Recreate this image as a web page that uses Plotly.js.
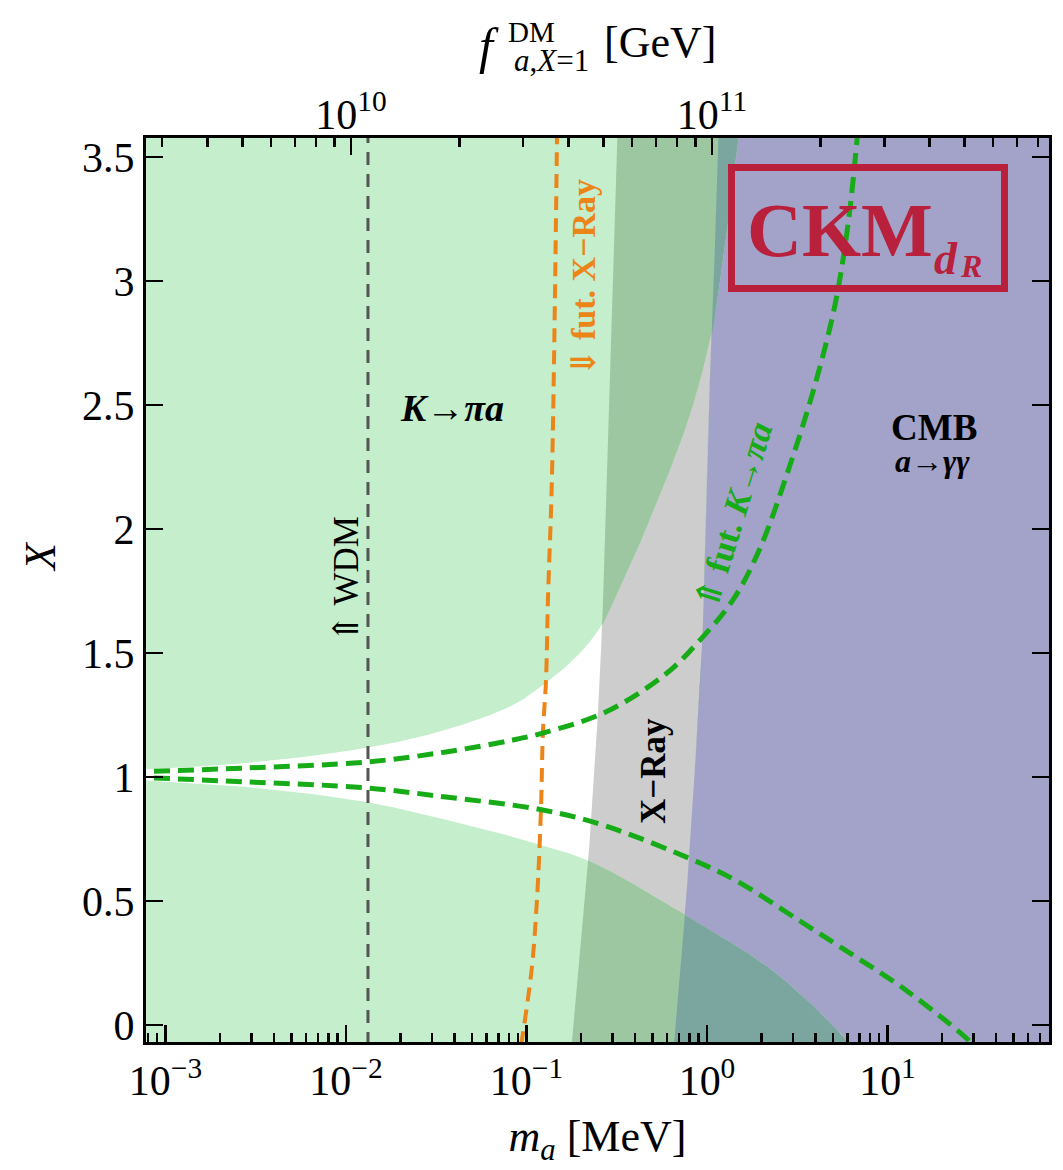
<!DOCTYPE html>
<html><head><meta charset="utf-8">
<script src="https://cdn.plot.ly/plotly-3.0.1.min.js"></script>
<style>html,body{margin:0;padding:0;background:#fff;}</style>
</head><body>
<div id="chart" style="width:1063px;height:1170px;"></div>
<script>
// ================= DATA =================
const massRangeMeV = [7.8e-4, 78.5];     // bottom axis m_a [MeV]
const xRangeVals   = [-0.069, 3.577];    // X
const faRangeGeV   = [2.705e9, 8.58e11]; // top axis f_a^DM (X=1) [GeV]

const xTickVals = [1e-3, 1e-2, 1e-1, 1e0, 1e1];
const xTickText = ['10<sup>−3</sup>','10<sup>−2</sup>','10<sup>−1</sup>','10<sup>0</sup>','10<sup>1</sup>'];
const yTickVals = [0, 0.5, 1, 1.5, 2, 2.5, 3, 3.5];
const yTickText = ['0','0.5','1','1.5','2','2.5','3','3.5'];
const faTickVals = [1e10, 1e11];
const faTickText = ['10<sup>10</sup>','10<sup>11</sup>'];

// X-ray exclusion boundary (left edge of the grey region)
const xrayBoundX = [-0.081, 0.637, 1.512, 2.52, 3.649];
const xrayBoundM = [0.178, 0.219, 0.259, 0.286, 0.321];
// CMB exclusion boundary (left edge of the blue region)
const cmbBoundX = [-0.081, 0.431, 0.746, 1.512, 2.399, 2.802, 3.649];
const cmbBoundM = [0.656, 0.755, 0.805, 0.938, 1.013, 1.067, 1.165];
// K -> pi a excluded: above the upper curve and below the lower curve
const kpiUpperM = [6.35e-4, 2.79e-3, 0.0129, 0.0358, 0.0841, 0.128, 0.186, 0.255, 0.374, 0.549, 0.805, 1.067, 1.291, 1.486, 1.543];
const kpiUpperX = [1.028, 1.056, 1.117, 1.190, 1.290, 1.379, 1.480, 1.601, 1.851, 2.137, 2.460, 2.802, 3.206, 3.569, 3.649];
const kpiLowerM = [6.35e-4, 2.79e-3, 0.0129, 0.0358, 0.0841, 0.222, 0.755, 2.32, 5.46, 6.19];
const kpiLowerX = [0.990, 0.960, 0.899, 0.827, 0.758, 0.661, 0.444, 0.218, -0.032, -0.081];
// future K -> pi a reach (dashed green)
const futKUpperM = [6.35e-4, 2.79e-3, 0.0129, 0.0358, 0.0841, 0.123, 0.275, 0.600, 0.914, 1.393, 1.968, 2.884, 3.963, 5.117, 6.039, 6.776, 6.87];
const futKUpperX = [1.020, 1.036, 1.060, 1.101, 1.149, 1.177, 1.262, 1.419, 1.552, 1.714, 1.923, 2.258, 2.581, 2.903, 3.226, 3.569, 3.629];
const futKLowerM = [6.35e-4, 2.79e-3, 0.0129, 0.0358, 0.123, 0.275, 0.914, 1.524, 3.273, 5.458, 12.82, 27.93, 29.4];
const futKLowerX = [1.000, 0.980, 0.956, 0.919, 0.867, 0.802, 0.653, 0.573, 0.419, 0.315, 0.137, -0.060, -0.081];
// future X-ray reach (dashed orange)
const futXrayM = [0.0933, 0.0957, 0.1072, 0.1143, 0.1203, 0.1233, 0.1283, 0.1315, 0.1384, 0.1476, 0.148];
const futXrayX = [-0.081, -0.032, 0.234, 0.504, 0.867, 1.177, 1.391, 1.714, 2.210, 3.577, 3.649];
// warm dark matter bound
const wdmM = 0.01324;
const wdmX = [-0.081, 3.649];

// ================= helpers =================
const SERIF = 'Liberation Serif, "Times New Roman", DejaVu Serif, serif';
const L = 146, R = 1049, T = 138, B = 1042;
const px = x => (x - L) / (R - L);
const py = y => (B - y) / (B - T);
const lg = v => Math.log10(v);
const SX = (R - L) / (lg(massRangeMeV[1]) - lg(massRangeMeV[0]));
const SY = (B - T) / (xRangeVals[1] - xRangeVals[0]);

// smooth (centripetal Catmull-Rom) path through the read points, in screen-like units
function smoothPath(ms, Xs, per) {
  const P = ms.map((m, i) => [lg(m) * SX, Xs[i] * SY]);
  const n = P.length;
  const ext = [[2*P[0][0]-P[1][0], 2*P[0][1]-P[1][1]], ...P, [2*P[n-1][0]-P[n-2][0], 2*P[n-1][1]-P[n-2][1]]];
  const d = (a, b) => Math.max(1e-6, Math.pow(Math.hypot(b[0]-a[0], b[1]-a[1]), 0.5));
  const lm = [], X = [];
  for (let i = 1; i < ext.length - 2; i++) {
    const p0 = ext[i-1], p1 = ext[i], p2 = ext[i+1], p3 = ext[i+2];
    const t0 = 0, t1 = t0 + d(p0, p1), t2 = t1 + d(p1, p2), t3 = t2 + d(p2, p3);
    for (let k = 0; k < per; k++) {
      const t = t1 + (t2 - t1) * k / per;
      const mix = (a, b, ta, tb) => [(tb-t)/(tb-ta)*a[0] + (t-ta)/(tb-ta)*b[0], (tb-t)/(tb-ta)*a[1] + (t-ta)/(tb-ta)*b[1]];
      const A1 = mix(p0, p1, t0, t1), A2 = mix(p1, p2, t1, t2), A3 = mix(p2, p3, t2, t3);
      const B1 = mix(A1, A2, t0, t2), B2 = mix(A2, A3, t1, t3);
      const C = mix(B1, B2, t1, t2);
      lm.push(C[0] / SX); X.push(C[1] / SY);
    }
  }
  lm.push(P[n-1][0] / SX); X.push(P[n-1][1] / SY);
  return { lm, X };
}
// boundary as function X -> log10(m)
function invByX(path) {
  const pts = path.X.map((x, i) => [x, path.lm[i]]).sort((a, b) => a[0] - b[0]);
  const n = pts.length;
  return function (X) {
    if (X <= pts[0][0]) return pts[0][1];
    if (X >= pts[n-1][0]) return pts[n-1][1];
    let lo = 0, hi = n - 1;
    while (hi - lo > 1) { const mid = (lo + hi) >> 1; if (pts[mid][0] <= X) lo = mid; else hi = mid; }
    const f = (X - pts[lo][0]) / Math.max(1e-12, pts[hi][0] - pts[lo][0]);
    return pts[lo][1] + f * (pts[hi][1] - pts[lo][1]);
  };
}
const fXray = invByX(smoothPath(xrayBoundM, xrayBoundX, 40));
const fCmb  = invByX(smoothPath(cmbBoundM, cmbBoundX, 40));
const fUp   = invByX(smoothPath(kpiUpperM, kpiUpperX, 40));
const fLow  = invByX(smoothPath(kpiLowerM, kpiLowerX, 40));
const FAR_L = -3.5, FAR_R = 2.3;
const cst = v => () => v;

function grid(a, b, n) { const g = []; for (let i = 0; i <= n; i++) g.push(a + (b - a) * i / n); return g; }
const gFull = grid(-0.081, 3.649, 800);
const gUp   = grid(kpiUpperX[0], 3.649, 700);
const gLow  = grid(-0.081, kpiLowerX[0], 400);

function band(Xs, Lf, Rf) {
  const lo = Xs.map(X => Lf(X));
  const hi = Xs.map((X, i) => Math.max(Rf(X), lo[i]));
  const xs = [], ys = [];
  for (let i = 0; i < Xs.length; i++) { xs.push(Math.pow(10, lo[i])); ys.push(Xs[i]); }
  for (let i = Xs.length - 1; i >= 0; i--) { xs.push(Math.pow(10, hi[i])); ys.push(Xs[i]); }
  return { xs, ys };
}
function fillTrace(b, color) {
  return { x: b.xs, y: b.ys, type: 'scatter', mode: 'lines', fill: 'toself', fillcolor: color,
           line: { width: 0, color: color }, hoverinfo: 'skip', showlegend: false };
}
const C_LG = '#c4eecc', C_DG = '#9cc7a1', C_GR = '#cdcdcd', C_BL = '#a3a3c9', C_TE = '#7ba6a0';
const C_GREEN = '#17ab17', C_ORANGE = '#ec8518';

const traces = [
  fillTrace(band(gFull, fXray, cst(FAR_R)), C_GR),
  fillTrace(band(gFull, fCmb,  cst(FAR_R)), C_BL),
  fillTrace(band(gUp,  cst(FAR_L), fUp),  C_LG),
  fillTrace(band(gLow, cst(FAR_L), fLow), C_LG),
  fillTrace(band(gUp,  fXray, fUp),  C_DG),
  fillTrace(band(gLow, fXray, fLow), C_DG),
  fillTrace(band(gUp,  fCmb, fUp),   C_TE),
  fillTrace(band(gLow, fCmb, fLow),  C_TE),
  { x: [wdmM, wdmM], y: wdmX, type: 'scatter', mode: 'lines',
    line: { color: '#555555', width: 3, dash: '13px,9px' }, hoverinfo: 'skip', showlegend: false },
  { x: futXrayM, y: futXrayX, type: 'scatter', mode: 'lines',
    line: { color: C_ORANGE, width: 4, dash: '14px,8px', shape: 'spline', smoothing: 1 }, hoverinfo: 'skip', showlegend: false },
  { x: futKUpperM, y: futKUpperX, type: 'scatter', mode: 'lines',
    line: { color: C_GREEN, width: 5, dash: '16px,8px', shape: 'spline', smoothing: 1 }, hoverinfo: 'skip', showlegend: false },
  { x: futKLowerM, y: futKLowerX, type: 'scatter', mode: 'lines',
    line: { color: C_GREEN, width: 5, dash: '16px,8px', shape: 'spline', smoothing: 1 }, hoverinfo: 'skip', showlegend: false },
  // carrier for the top f_a axis
  { x: faRangeGeV, y: [-5, -5], xaxis: 'x2', yaxis: 'y', type: 'scatter', mode: 'lines',
    line: { width: 0 }, hoverinfo: 'skip', showlegend: false }
];

function minorTicks(lo, hi) {
  const v = [];
  for (let e = Math.floor(lg(lo)) - 1; e <= Math.ceil(lg(hi)); e++)
    for (let k = 2; k <= 9; k++) { const t = k * Math.pow(10, e); if (t > lo && t < hi) v.push(t); }
  return v;
}
function ann(text, x, y, size, color, angle, extra) {
  return Object.assign({ text, xref: 'paper', yref: 'paper', x: px(x), y: py(y),
    xanchor: 'center', yanchor: 'middle', showarrow: false, textangle: angle || 0,
    font: { family: SERIF, size, color: color || '#000' } }, extra || {});
}
const RED = '#b8203c';

const axisCommon = { showgrid: false, zeroline: false, tickcolor: '#000', tickwidth: 2.5,
  ticks: 'inside', ticklen: 17, tickfont: { family: SERIF, size: 42, color: '#000' } };

const layout = {
  width: 1063, height: 1170,
  margin: { l: L, r: 1063 - R, t: T, b: 1170 - B, pad: 0 },
  paper_bgcolor: '#ffffff', plot_bgcolor: '#ffffff', showlegend: false,
  font: { family: SERIF, size: 42, color: '#000' },
  xaxis: Object.assign({}, axisCommon, {
    type: 'log', range: massRangeMeV.map(lg), tickmode: 'array', tickvals: xTickVals, ticktext: xTickText,
    showline: true, linewidth: 3, linecolor: '#000', mirror: true, automargin: false,
    minor: { tickmode: 'array', tickvals: minorTicks(massRangeMeV[0], massRangeMeV[1]), ticks: 'inside',
             ticklen: 9, tickwidth: 2.5, tickcolor: '#000', showgrid: false },
    title: { text: '<i>m<sub>a</sub></i> [MeV]', font: { family: SERIF, size: 44 }, standoff: 17 }
  }),
  xaxis2: Object.assign({}, axisCommon, {
    type: 'log', overlaying: 'x', side: 'top', anchor: 'y', range: faRangeGeV.map(lg),
    tickmode: 'array', tickvals: faTickVals, ticktext: faTickText, showline: false, automargin: false,
    minor: { tickmode: 'array', tickvals: minorTicks(faRangeGeV[0], faRangeGeV[1]), ticks: 'inside',
             ticklen: 9, tickwidth: 2.5, tickcolor: '#000', showgrid: false }
  }),
  yaxis: Object.assign({}, axisCommon, {
    range: xRangeVals, tickmode: 'array', tickvals: yTickVals, ticktext: yTickText,
    showline: true, linewidth: 3, linecolor: '#000', mirror: 'ticks', automargin: false
  }),
  shapes: [
    { type: 'rect', xref: 'paper', yref: 'paper', x0: px(731.5), x1: px(1004.5), y0: py(288.5), y1: py(167.5),
      line: { color: RED, width: 7 }, layer: 'above' }
  ],
  annotations: [
    // y axis title
    ann('<i>X</i>', 40, 557, 44, '#000', -90),
    // top axis title (stacked super/subscripts as in the reference)
    ann('<i>f</i>', 489, 46, 50),
    ann('DM', 531, 32, 29),
    ann('<i>a</i>,<i>X</i>=1', 551, 61, 31),
    ann('[GeV]', 660, 42, 44),
    // region labels
    ann('<b><i>K</i>→<i>πa</i></b>', 452, 408, 38),
    ann('⇑ WDM', 346, 580, 35, '#000', -90),
    ann('<b>⇓ fut. X−Ray</b>', 583, 278, 34, C_ORANGE, -90),
    ann('<b>X−Ray</b>', 653, 771, 35, '#000', -90),
    ann('<b>⇑ fut. <i>K</i>→<i>πa</i></b>', 733, 516, 35, C_GREEN, -73),
    ann('<b>CMB</b>', 934, 427, 37),
    ann('<b><i>a</i>→<i>γγ</i></b>', 932, 461, 32),
    ann('<b>CKM</b>', 840, 230, 76, RED),
    ann('<b><i>d</i></b>', 946, 258, 46, RED),
    ann('<b><i>R</i></b>', 971, 266, 32, RED)
  ]
};

Plotly.newPlot('chart', traces, layout, { displayModeBar: false, staticPlot: true });
</script>
</body></html>
